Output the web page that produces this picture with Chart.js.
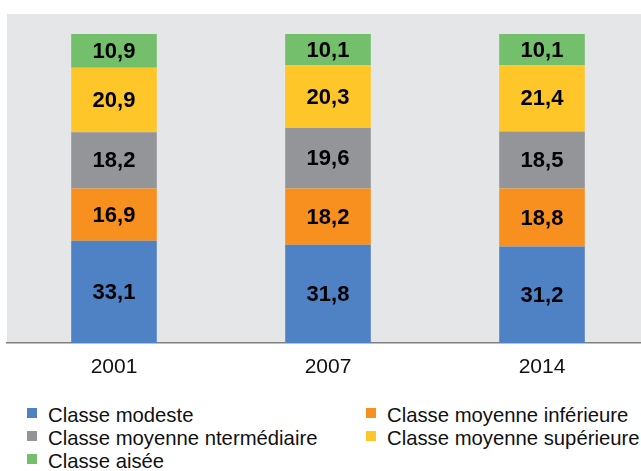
<!DOCTYPE html>
<html>
<head>
<meta charset="utf-8">
<script src="https://cdn.jsdelivr.net/npm/chart.js@4"></script>
<style>
  html, body { margin: 0; padding: 0; background: #fff; overflow: hidden; }
  body { width: 641px; height: 471px; position: relative; font-family: "Liberation Sans", Arial, sans-serif; }
  #wrap { position: absolute; left: 0; top: 0; width: 650px; height: 390px; }
  .legend { position: absolute; font-size: 20.3px; color: #111; line-height: 23px; white-space: nowrap; }
  .legend span.sw { position: absolute; left: -21px; top: 4px; width: 10px; height: 10px; }
</style>
</head>
<body>
<div id="wrap"><canvas id="mycanvas" width="650" height="390"></canvas></div>
<div id="legend"></div>
<script>
var years = ['2001', '2007', '2014'];
var classes = ['Classe modeste', 'Classe moyenne inférieure', 'Classe moyenne ntermédiaire', 'Classe moyenne supérieure', 'Classe aisée'];
var modeste = [33.1, 31.8, 31.2];
var inferieure = [16.9, 18.2, 18.8];
var intermediaire = [18.2, 19.6, 18.5];
var superieure = [20.9, 20.3, 21.4];
var aisee = [10.9, 10.1, 10.1];
var colors = ['#4f82c4', '#f7901e', '#939598', '#ffc629', '#73bf6b'];

var series = [modeste, inferieure, intermediaire, superieure, aisee];
var datasets = [];
for (var i in series) {
  datasets.push({
    label: classes[i],
    data: series[i],
    backgroundColor: colors[i],
    borderWidth: 0,
    barPercentage: 0.4,
    categoryPercentage: 1
  });
}

// grey plot background
var plotBg = {
  id: 'plotBg',
  beforeDraw: function(chart) {
    var a = chart.chartArea, ctx = chart.ctx;
    ctx.save();
    ctx.fillStyle = '#e5e6e7';
    ctx.fillRect(a.left, a.top, a.right - a.left, a.bottom - a.top);
    ctx.restore();
  }
};

// values written in the middle of each segment
var segLabels = {
  id: 'segLabels',
  afterDatasetsDraw: function(chart) {
    var ctx = chart.ctx;
    ctx.save();
    ctx.font = 'bold 22px "Liberation Sans", Arial, sans-serif';
    ctx.fillStyle = '#000';
    ctx.textAlign = 'center';
    ctx.textBaseline = 'middle';
    chart.data.datasets.forEach(function(ds, di) {
      chart.getDatasetMeta(di).data.forEach(function(bar, j) {
        var p = bar.getProps(['x', 'y', 'base'], true);
        ctx.fillText(ds.data[j].toFixed(1).replace('.', ','), p.x, (p.y + p.base) / 2 + 1);
      });
    });
    ctx.restore();
  }
};

var ctx = document.getElementById('mycanvas');
var barGraph = new Chart(ctx, {
  type: 'bar',
  data: { labels: years, datasets: datasets },
  options: {
    responsive: false,
    animation: false,
    layout: { padding: { left: 7, top: 14, right: 1, bottom: 0 } },
    plugins: { legend: { display: false }, tooltip: { enabled: false } },
    scales: {
      x: {
        stacked: true,
        grid: { display: false, drawTicks: false },
        border: { display: true, color: '#808080', width: 1.5 },
        ticks: { color: '#111', padding: 12, font: { family: '"Liberation Sans", Arial, sans-serif', size: 21 } },
        afterFit: function(scale) { scale.height = 47; }
      },
      y: {
        stacked: true,
        display: false,
        min: 0,
        max: 106.5
      }
    }
  },
  plugins: [plotBg, segLabels]
});

// two-column legend under the chart
var legendPos = [[48, 404], [387, 404], [48, 427], [387, 427], [48, 450]];
var html = '';
for (var k = 0; k < classes.length; k++) {
  html += '<div class="legend" style="left:' + legendPos[k][0] + 'px;top:' + legendPos[k][1] + 'px">' +
    '<span class="sw" style="background:' + colors[k] + '"></span>' + classes[k] + '</div>';
}
document.getElementById('legend').innerHTML = html;
</script>
</body>
</html>
